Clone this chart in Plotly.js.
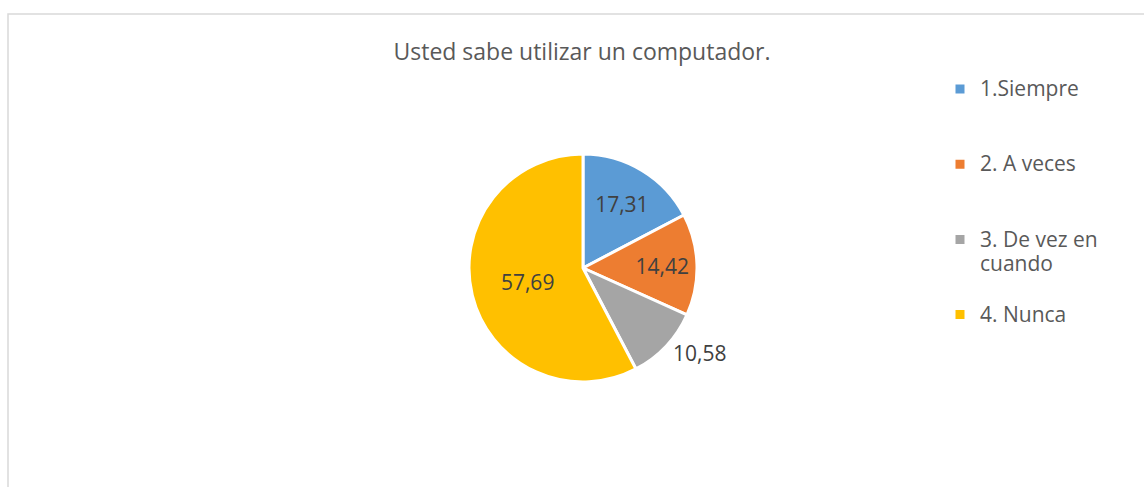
<!DOCTYPE html>
<html>
<head>
<meta charset="utf-8">
<script src="https://cdn.plot.ly/plotly-3.0.1.min.js"></script>
<style>
html,body{margin:0;padding:0;background:#fff;}
#chart{width:1144px;height:487px;}
</style>
</head>
<body>
<div id="chart"></div>
<script>
const categories = ["1.Siempre", "2. A veces", "3. De vez en|cuando", "4. Nunca"];
const values = [17.31, 14.42, 10.58, 57.69];
const colors = ["#5B9BD5", "#ED7D31", "#A5A5A5", "#FFC000"];
const labelPositions = ["inside", "inside", "outside", "inside"];
const chartTitle = "Usted sabe utilizar un computador.";

const W = 1144, H = 487;
const cx = 583, cy = 268, r = 114;

// legend labels: each line in a larger span, padded with blank lines so entries are spaced out
const legendLabels = categories.map(c => {
  const lines = c.split("|").map(s => '<span style="font-size:21px">' + s + '</span>');
  if (lines.length === 1) lines.push(" ");
  return " <br>" + lines.join("<br>");
});

const trace = {
  type: "pie",
  labels: legendLabels,
  values: values,
  sort: false,
  direction: "clockwise",
  rotation: 0,
  marker: {colors: colors, line: {color: "#ffffff", width: 3}},
  texttemplate: "%{value:.2f}",
  textposition: labelPositions,
  insidetextorientation: "horizontal",
  textfont: {family: "Open Sans, sans-serif", size: 21, color: "#404040"},
  insidetextfont: {family: "Open Sans, sans-serif", size: 21, color: "#404040"},
  outsidetextfont: {family: "Open Sans, sans-serif", size: 21, color: "#404040"},
  domain: {x: [(cx - r) / W, (cx + r) / W], y: [(H - cy - r) / H, (H - cy + r) / H]},
  hoverinfo: "value",
  showlegend: true
};

const layout = {
  width: W, height: H,
  margin: {l: 0, r: 0, t: 0, b: 0},
  paper_bgcolor: "#ffffff",
  separators: ",.",
  font: {family: "Open Sans, sans-serif", color: "#595959"},
  title: {
    text: chartTitle,
    x: 582 / W, xanchor: "center",
    y: 1 - 52 / H, yanchor: "middle",
    font: {family: "Open Sans, sans-serif", size: 23, color: "#595959"}
  },
  legend: {
    x: 940 / W, xanchor: "left",
    y: 1 - 46.5 / H, yanchor: "top",
    font: {family: "Open Sans, sans-serif", size: 18.5, color: "#595959"},
    bgcolor: "rgba(0,0,0,0)"
  },
  shapes: [{
    type: "rect", xref: "paper", yref: "paper",
    x0: 8 / W, x1: 1.02, y0: -0.02, y1: 1 - 14 / H,
    line: {color: "#d9d9d9", width: 1.5},
    fillcolor: "rgba(0,0,0,0)", layer: "below"
  }]
};

Plotly.newPlot("chart", [trace], layout, {staticPlot: true});
</script>
</body>
</html>
